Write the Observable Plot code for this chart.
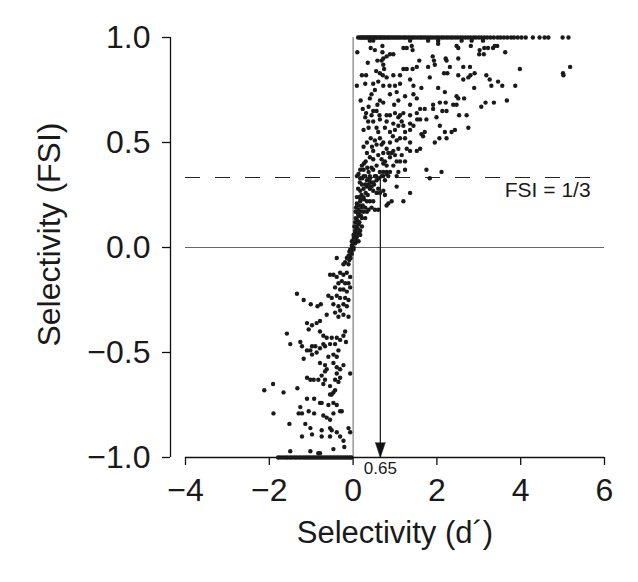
<!DOCTYPE html>
<html><head><meta charset="utf-8">
<script src="https://cdn.jsdelivr.net/npm/d3@7"></script>
<script src="https://cdn.jsdelivr.net/npm/@observablehq/plot@0.6"></script>
<style>body{margin:0;background:#fff}</style>
</head><body><div id="chart"></div>
<script>
const xTicks = [-4, -2, 0, 2, 4, 6];
const yTicks = [-1, -0.5, 0, 0.5, 1];
const xLabel = "Selectivity (d´)";
const yLabel = "Selectivity (FSI)";
const thresholdFSI = 1/3;
const thresholdLabel = "FSI = 1/3";
const criterionD = 0.65;
const criterionLabel = "0.65";

// points sitting on FSI = 1
const topRowX = [0.12,0.16,0.19,0.22,0.25,0.28,0.31,0.34,0.37,0.40,0.43,0.46,0.49,0.52,0.55,0.58,0.62,0.65,0.68,0.72,0.75,0.79,0.83,0.86,0.90,0.94,0.98,1.02,1.06,1.10,1.14,1.19,1.23,1.27,1.32,1.36,1.41,1.45,1.50,1.55,1.60,1.64,1.69,1.74,1.79,1.84,1.89,1.95,2.0,2.05,2.11,2.16,2.22,2.27,2.33,2.38,2.44,2.5,2.56,2.62,2.68,2.74,2.8,2.87,2.93,3.0,3.06,3.13,3.2,3.28,3.36,3.45,3.52,3.6,3.68,3.77,3.84,3.93,4.02,4.12,4.29,4.45,4.57,4.66,5.0,5.14];
// points sitting on FSI = -1
const bottomRowX = [-1.79,-1.74,-1.68,-1.62,-1.57,-1.51,-1.46,-1.40,-1.35,-1.29,-1.24,-1.18,-1.13,-1.08,-1.03,-0.98,-0.93,-0.88,-0.83,-0.78,-0.73,-0.68,-0.63,-0.58,-0.53,-0.48,-0.43,-0.38,-0.33,-0.28,-0.23,-0.18,-0.13,-0.08,-0.04];

// [d', FSI] for the scattered cells, upper cloud
const upperPts = [[0.10,0.93],[0.42,0.95],[0.52,0.94],[0.70,0.96],[0.70,0.93],[1.20,0.95],[1.28,0.95],[1.40,0.96],[1.42,0.94],[2.03,0.97],[2.47,0.96],[2.51,0.95],[2.81,0.96],[3.02,0.94],[3.13,0.95],[3.22,0.95],[3.34,0.95],[3.38,0.96],[3.44,0.96],[3.63,0.93],[3.12,0.92],[3.01,0.92],[2.51,0.90],[2.21,0.90],[2.23,0.89],[1.90,0.91],[1.93,0.89],[1.58,0.89],[0.88,0.92],[0.80,0.91],[0.72,0.90],[0.68,0.89],[0.58,0.89],[0.72,0.87],[0.96,0.92],[0.74,0.85],[1.20,0.85],[1.28,0.85],[1.42,0.85],[1.52,0.86],[1.79,0.86],[1.95,0.87],[2.31,0.86],[2.63,0.86],[2.79,0.86],[3.98,0.85],[5.18,0.86],[5.01,0.83],[5.02,0.82],[0.64,0.83],[0.71,0.82],[0.80,0.81],[0.21,0.82],[0.31,0.82],[0.96,0.82],[1.12,0.82],[1.36,0.80],[1.83,0.81],[2.17,0.83],[2.25,0.83],[2.51,0.82],[2.75,0.81],[2.80,0.82],[2.90,0.83],[3.18,0.82],[3.26,0.80],[3.30,0.77],[3.46,0.79],[3.56,0.77],[3.87,0.77],[2.89,0.76],[2.63,0.80],[0.29,0.78],[0.48,0.78],[0.72,0.77],[0.87,0.77],[1.00,0.77],[1.12,0.78],[1.44,0.77],[1.63,0.76],[0.09,0.77],[0.52,0.75],[0.88,0.73],[1.04,0.74],[1.24,0.72],[1.44,0.73],[2.03,0.76],[2.19,0.74],[2.47,0.72],[2.51,0.71],[2.65,0.71],[0.18,0.70],[0.44,0.73],[0.64,0.70],[0.72,0.69],[1.08,0.70],[1.36,0.68],[1.52,0.71],[1.60,0.66],[1.71,0.66],[1.91,0.68],[2.07,0.69],[2.21,0.69],[2.39,0.68],[2.47,0.68],[3.06,0.67],[3.16,0.69],[3.36,0.69],[3.67,0.70],[0.23,0.66],[0.37,0.67],[0.31,0.64],[0.44,0.63],[0.48,0.65],[0.56,0.65],[0.63,0.63],[0.80,0.63],[0.88,0.63],[1.00,0.64],[1.08,0.62],[1.12,0.63],[1.20,0.64],[1.36,0.63],[1.52,0.64],[1.53,0.61],[1.75,0.61],[1.91,0.66],[2.13,0.65],[2.23,0.65],[2.53,0.63],[2.71,0.63],[0.29,0.62],[0.48,0.60],[0.64,0.61],[0.80,0.60],[0.96,0.59],[1.08,0.58],[1.20,0.58],[1.36,0.59],[1.44,0.58],[1.60,0.61],[1.99,0.62],[0.25,0.56],[0.37,0.57],[0.56,0.57],[0.76,0.57],[0.88,0.55],[1.00,0.56],[1.24,0.55],[1.36,0.56],[1.63,0.54],[1.71,0.55],[2.07,0.58],[2.19,0.55],[2.35,0.55],[2.43,0.56],[2.75,0.57],[0.33,0.50],[0.42,0.52],[0.52,0.51],[0.64,0.52],[0.72,0.50],[0.88,0.50],[1.04,0.51],[1.12,0.52],[1.24,0.52],[1.36,0.50],[1.67,0.53],[1.95,0.50],[2.06,0.52],[2.23,0.52],[0.25,0.48],[0.56,0.49],[0.68,0.49],[0.80,0.47],[0.96,0.46],[1.08,0.47],[1.28,0.47],[1.36,0.46],[1.52,0.46],[1.60,0.47],[0.33,0.45],[0.48,0.46],[0.72,0.45],[0.84,0.45],[0.92,0.45],[1.00,0.44],[1.16,0.44],[0.88,0.43],[0.40,0.43],[0.48,0.42],[0.68,0.42],[0.76,0.41],[1.04,0.41],[1.12,0.41],[1.24,0.41],[0.72,0.40],[0.80,0.39],[0.96,0.39],[0.21,0.39],[0.26,0.40],[0.34,0.38],[0.44,0.38],[0.17,0.37],[0.25,0.37],[0.37,0.36],[0.48,0.37],[0.64,0.36],[0.72,0.36],[0.80,0.36],[0.88,0.36],[1.08,0.36],[1.24,0.37],[1.75,0.37],[2.11,0.36],[0.13,0.35],[0.29,0.34],[0.40,0.34],[0.52,0.34],[0.72,0.34],[0.80,0.35],[1.83,0.33],[0.40,0.985],[0.48,0.985],[1.36,0.985],[1.79,0.985],[2.03,0.985],[2.59,0.985],[2.83,0.985],[3.10,0.985],[0.35,0.88],[0.55,0.84],[0.60,0.79],[0.40,0.71],[0.58,0.68],[0.36,0.60],[0.60,0.55],[0.45,0.48],[0.60,0.44],[0.30,0.41],[0.56,0.39],[0.95,0.53],[1.16,0.60],[0.98,0.68]];

// central band around the origin
const bandPts = [[0.09,0.34],[0.17,0.33],[0.25,0.34],[0.33,0.32],[0.40,0.33],[0.48,0.31],[0.56,0.32],[0.68,0.34],[0.76,0.32],[0.84,0.34],[1.04,0.34],[0.17,0.27],[0.25,0.28],[0.33,0.29],[0.40,0.28],[0.48,0.27],[0.56,0.26],[0.64,0.26],[0.21,0.30],[0.29,0.30],[0.37,0.30],[0.44,0.29],[0.60,0.28],[0.72,0.27],[1.04,0.29],[1.20,0.22],[0.92,0.22],[0.80,0.20],[0.25,0.24],[0.33,0.22],[0.40,0.22],[0.48,0.22],[0.17,0.22],[0.09,0.21],[0.07,0.19],[0.13,0.18],[0.21,0.19],[0.29,0.19],[0.37,0.18],[0.44,0.19],[0.52,0.18],[0.60,0.18],[0.17,0.17],[0.25,0.17],[0.33,0.17],[0.13,0.15],[0.21,0.14],[0.29,0.14],[0.05,0.12],[0.13,0.11],[0.21,0.10],[0.09,0.09],[0.17,0.08],[0.05,0.07],[0.13,0.07],[0.01,0.06],[0.09,0.05],[0.17,0.06],[0.01,0.04],[0.09,0.03],[-0.03,0.03],[0.05,0.02],[0.13,0.03],[-0.03,0.01],[0.01,0.00],[-0.07,-0.01],[0.01,-0.01],[-0.09,-0.02],[-0.03,-0.03],[-0.11,-0.04],[-0.06,-0.05],[-0.15,-0.05],[-0.09,-0.06],[-0.19,-0.07],[-0.11,-0.08],[-0.23,-0.08],[-0.39,-0.05],[1.36,0.26],[0.84,0.21],[0.76,0.25],[0.02,0.05],[0.05,0.08],[0.08,0.10],[0.10,0.13],[0.12,0.16],[0.15,0.20],[0.18,0.23],[0.20,0.25],[0.10,0.20],[0.14,0.24],[0.06,0.14],[0.03,0.10],[0.00,0.02],[-0.02,0.00],[-0.05,-0.02],[-0.08,-0.04],[0.04,0.04],[0.07,0.06],[0.11,0.09],[0.15,0.12],[0.19,0.15],[0.23,0.20],[0.26,0.23],[0.30,0.26],[0.35,0.25],[0.38,0.32],[0.42,0.31],[0.50,0.30],[0.55,0.34],[0.62,0.33],[0.12,0.28],[0.16,0.31],[0.22,0.33],[0.06,0.17],[0.09,0.24]];

// lower cloud
const lowerPts = [[-0.55,-0.13],[-0.47,-0.13],[-0.39,-0.14],[-0.31,-0.12],[-0.23,-0.13],[-0.15,-0.12],[-0.07,-0.14],[-0.35,-0.17],[-0.27,-0.16],[-0.19,-0.17],[-0.11,-0.17],[-0.43,-0.19],[-0.31,-0.20],[-0.23,-0.20],[-0.15,-0.21],[-0.07,-0.19],[-0.59,-0.23],[-0.51,-0.24],[-0.39,-0.23],[-0.31,-0.24],[-0.19,-0.24],[-0.11,-0.25],[-0.23,-0.27],[-0.35,-0.28],[-0.47,-0.27],[-0.15,-0.28],[-0.31,-0.30],[-0.43,-0.31],[-0.23,-0.32],[-0.11,-0.33],[-0.35,-0.33],[-1.34,-0.22],[-1.18,-0.25],[-1.01,-0.27],[-0.85,-0.28],[-0.77,-0.27],[-0.63,-0.32],[-0.79,-0.35],[-0.87,-0.36],[-0.98,-0.37],[-1.10,-0.36],[-1.06,-0.39],[-0.79,-0.40],[-0.71,-0.42],[-0.63,-0.43],[-0.51,-0.43],[-0.39,-0.43],[-0.31,-0.44],[-0.23,-0.42],[-0.19,-0.40],[-0.55,-0.46],[-0.67,-0.47],[-0.79,-0.48],[-0.90,-0.47],[-0.98,-0.47],[-1.02,-0.49],[-1.10,-0.49],[-0.98,-0.51],[-0.87,-0.50],[-0.71,-0.46],[-0.43,-0.46],[-0.35,-0.49],[-0.47,-0.51],[-0.39,-0.52],[-0.17,-0.45],[-1.58,-0.41],[-1.50,-0.46],[-1.26,-0.45],[-1.22,-0.47],[-1.18,-0.53],[-0.79,-0.55],[-0.67,-0.56],[-0.59,-0.52],[-0.63,-0.58],[-0.47,-0.55],[-0.39,-0.57],[-0.31,-0.58],[-0.23,-0.56],[-0.67,-0.59],[-0.75,-0.61],[-0.39,-0.60],[-0.31,-0.62],[-0.43,-0.63],[-0.35,-0.64],[-1.10,-0.62],[-1.02,-0.63],[-0.94,-0.63],[-0.83,-0.63],[-0.67,-0.63],[-0.71,-0.65],[-0.55,-0.66],[-0.07,-0.60],[-1.91,-0.65],[-2.12,-0.68],[-1.66,-0.69],[-1.33,-0.67],[-0.47,-0.69],[-0.51,-0.70],[-0.43,-0.68],[-0.55,-0.70],[-1.10,-0.72],[-0.93,-0.72],[-0.79,-0.74],[-0.75,-0.74],[-0.47,-0.74],[-0.39,-0.75],[-0.59,-0.75],[-1.26,-0.76],[-1.22,-0.79],[-1.30,-0.79],[-1.06,-0.78],[-0.93,-0.79],[-0.71,-0.80],[-0.63,-0.81],[-0.55,-0.82],[-0.47,-0.79],[-0.31,-0.78],[-0.27,-0.78],[-1.90,-0.79],[-1.52,-0.84],[-1.14,-0.84],[-1.02,-0.86],[-0.75,-0.87],[-0.55,-0.86],[-0.51,-0.87],[-0.39,-0.88],[-0.31,-0.90],[-0.11,-0.86],[-0.07,-0.88],[-1.22,-0.90],[-0.98,-0.89],[-0.75,-0.90],[-0.55,-0.90],[-0.23,-0.92],[-0.47,-0.96],[-0.21,-0.95],[-1.50,-0.97],[-1.02,-0.97],[-0.83,-0.98],[-0.79,-0.98]];

const points = [
  ...topRowX.map(x => ({x, y: 1})),
  ...bottomRowX.map(x => ({x, y: -1})),
  ...upperPts.map(([x, y]) => ({x, y})),
  ...bandPts.map(([x, y]) => ({x, y})),
  ...lowerPts.map(([x, y]) => ({x, y}))
];

const font = "'Liberation Sans', Arial, Helvetica, sans-serif";
const ink = "#1a1a1a";

const chart = Plot.plot({
  width: 638,
  height: 582,
  marginTop: 37,
  marginBottom: 125,
  marginLeft: 185,
  marginRight: 34,
  x: {domain: [-4, 6]},
  y: {domain: [-1, 1]},
  style: {fontFamily: font, background: "#fff", color: ink, overflow: "visible"},
  marks: [
    Plot.ruleY([0], {stroke: "#666", strokeWidth: 1}),
    Plot.ruleX([0], {stroke: "#666", strokeWidth: 1}),
    Plot.ruleY([thresholdFSI], {stroke: "#222", strokeWidth: 1, strokeDasharray: "15,15"}),
    Plot.ruleX([criterionD], {y1: () => thresholdFSI, y2: () => -1, stroke: "#111", strokeWidth: 1.2}),
    Plot.vector([criterionD], {x: d => d, y: () => -1, rotate: 180, length: 15, r: 5, shape: "spike", anchor: "end", fill: "#111", stroke: "#111", strokeWidth: 0.5}),
    Plot.ruleY([-1], {stroke: "#111", strokeWidth: 1.3}),
    Plot.ruleX([-4], {dx: -15, stroke: "#111", strokeWidth: 1.3}),
    Plot.dot(points, {x: "x", y: "y", r: 2.2, fill: ink}),
    Plot.axisX({ticks: xTicks, tickFormat: d3.format("d"), tickSize: 8, tickPadding: 13, fontSize: 32, label: null, stroke: "#111", strokeWidth: 1.3}),
    Plot.axisY({ticks: yTicks, tickFormat: d3.format(".1f"), dx: -15, tickSize: 8, tickPadding: 12, fontSize: 32, label: null, stroke: "#111", strokeWidth: 1.3}),
    Plot.text([thresholdLabel], {x: () => 3.62, y: () => thresholdFSI, textAnchor: "start", dy: 13, fontSize: 21, fill: ink}),
    Plot.text([criterionD], {x: d => d, frameAnchor: "bottom", text: () => criterionLabel, dy: 16, fontSize: 17, fill: ink}),
    Plot.text([xLabel], {frameAnchor: "bottom", dy: 85, fontSize: 31, fill: ink}),
    Plot.text([yLabel], {frameAnchor: "left", textAnchor: "middle", rotate: -90, dx: -136, dy: -13, fontSize: 32, fill: ink})
  ]
});
document.getElementById("chart").appendChild(chart);
</script>
</body></html>
